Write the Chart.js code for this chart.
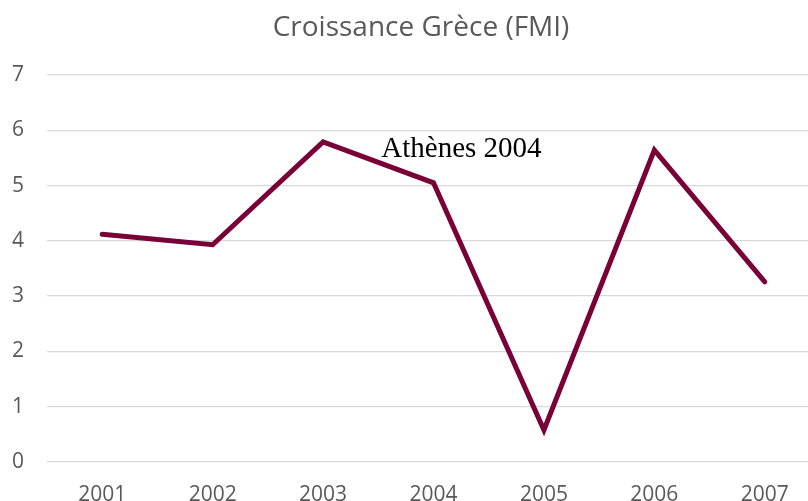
<!DOCTYPE html>
<html>
<head>
<meta charset="utf-8">
<script src="https://cdn.jsdelivr.net/npm/chart.js@4/dist/chart.umd.min.js"></script>
<style>
  html, body { margin: 0; padding: 0; overflow: hidden; background: #fff; }
  #wrap { width: 808px; height: 501px; overflow: hidden; }
</style>
</head>
<body>
<div id="wrap"><canvas id="growthChart" width="820" height="501"></canvas></div>
<script>
const years = ['2001', '2002', '2003', '2004', '2005', '2006', '2007'];
const growth = [4.12, 3.93, 5.79, 5.05, 0.58, 5.64, 3.26];
const yTicks = [0, 1, 2, 3, 4, 5, 6, 7];
const chartTitle = 'Croissance Grèce (FMI)';
const noteText = 'Athènes 2004';

const grey = '#595959';

// title and the text note are drawn by hand so they sit where Excel put them
const textPlugin = {
  id: 'textPlugin',
  afterDraw(chart) {
    const ctx = chart.ctx;
    const x = chart.scales.x;
    const y = chart.scales.y;
    ctx.save();
    ctx.fillStyle = grey;
    ctx.font = '28px "Open Sans"';
    ctx.textAlign = 'center';
    ctx.textBaseline = 'middle';
    ctx.fillText(chartTitle, 421, 28);

    // note between 2003 and 2004
    const nx = (x.getPixelForValue(2) + x.getPixelForValue(3)) / 2 + 3;
    ctx.fillStyle = '#000';
    ctx.font = '29px "Liberation Serif"';
    ctx.textAlign = 'left';
    ctx.fillText(noteText, nx, y.getPixelForValue(5.66));
    ctx.restore();
  }
};

new Chart(document.getElementById('growthChart'), {
  type: 'line',
  data: {
    labels: years,
    datasets: [{
      data: growth,
      borderColor: '#7a0038',
      borderWidth: 5,
      pointRadius: 0,
      borderJoinStyle: 'miter',
      borderCapStyle: 'round',
      tension: 0
    }]
  },
  options: {
    responsive: false,
    animation: false,
    layout: { padding: { top: 75, left: 0, right: 0, bottom: 0 } },
    plugins: {
      legend: { display: false },
      tooltip: { enabled: false }
    },
    scales: {
      x: {
        offset: true,
        grid: { display: false },
        border: { display: false },
        ticks: { color: grey, font: { family: 'Open Sans', size: 21 }, padding: 12 },
        afterFit(scale) { scale.height = 39; }
      },
      y: {
        min: 0,
        max: 7,
        afterBuildTicks(scale) { scale.ticks = yTicks.map(v => ({ value: v })); },
        grid: { color: '#d9d9d9', lineWidth: 1.3, drawTicks: false },
        border: { display: false },
        ticks: { color: grey, font: { family: 'Open Sans', size: 21 }, padding: 23 },
        afterFit(scale) { scale.width = 47; }
      }
    }
  },
  plugins: [textPlugin]
});
</script>
</body>
</html>
